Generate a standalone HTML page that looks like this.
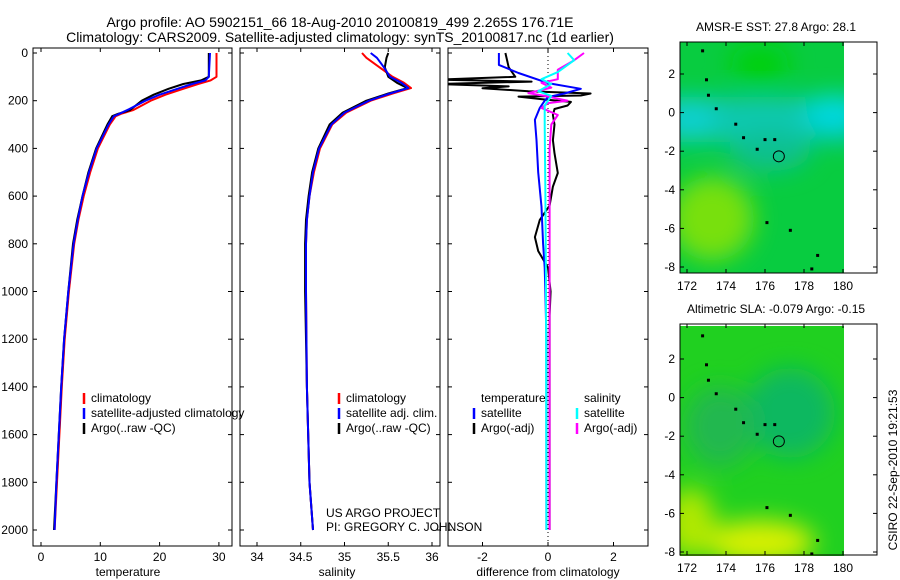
<!DOCTYPE html>
<html><head><meta charset="utf-8">
<style>
body{margin:0;background:#fff;}
svg{display:block;font-family:"Liberation Sans",sans-serif;}
</style></head>
<body>
<svg id="c" width="900" height="580" viewBox="0 0 900 580">
<defs>
<filter id="blur1" x="-20%" y="-20%" width="140%" height="140%"><feGaussianBlur stdDeviation="12"/></filter>
<clipPath id="clipm1"><rect x="680" y="42" width="164" height="231"/></clipPath>
<clipPath id="clipm2"><rect x="680" y="326" width="164" height="230"/></clipPath>
<clipPath id="clipP1"><rect x="33" y="48" width="199" height="498"/></clipPath>
<clipPath id="clipP2"><rect x="240" y="48" width="200" height="498"/></clipPath>
<clipPath id="clipP3"><rect x="448" y="48" width="200" height="498"/></clipPath>
</defs>
<text x="340" y="27" font-size="14" text-anchor="middle">Argo profile: AO 5902151_66 18-Aug-2010 20100819_499 2.265S 176.71E</text>
<text x="340" y="42" font-size="14" text-anchor="middle">Climatology: CARS2009. Satellite-adjusted climatology: synTS_20100817.nc (1d earlier)</text>
<g id="maps"></g>
<g id="panels"></g>
<text x="128" y="576" font-size="12" text-anchor="middle">temperature</text>
<text x="337" y="576" font-size="12" text-anchor="middle">salinity</text>
<text x="548" y="576" font-size="12" text-anchor="middle">difference from climatology</text>
<text x="326" y="517" font-size="12">US ARGO PROJECT</text>
<text x="326" y="531" font-size="12">PI: GREGORY C. JOHNSON</text>
<text x="776" y="313" font-size="12" text-anchor="middle">Altimetric SLA: -0.079 Argo: -0.15</text>
<text x="776" y="31" font-size="12" text-anchor="middle">AMSR-E SST: 27.8 Argo: 28.1</text>
<text transform="translate(897,470) rotate(-90)" font-size="12" text-anchor="middle">CSIRO 22-Sep-2010 19:21:53</text>
</svg>
<script>
// ---- data ----
const depthTicks = [0,200,400,600,800,1000,1200,1400,1600,1800,2000];
const tempTicks = [0,10,20,30];
const salTicks = [34,34.5,35,35.5,36];
const diffTicks = [-2,0,2];
const lonTicks = [172,174,176,178,180];
const latTicks1 = [2,0,-2,-4,-6,-8];
const latTicks2 = [2,0,-2,-4,-6,-8];

const tDepth = [0,100,115,130,150,175,200,240,255,265,300,400,500,600,700,800,1000,1200,1400,1600,1800,2000];
const tClim  = [29.6,29.6,28.6,26.5,24,21,18.5,15.5,13.5,12.6,11.6,9.6,8.3,7.2,6.3,5.6,4.7,4.0,3.5,3.1,2.7,2.3];
const tArgo  = [28.3,28.3,27,24,21.5,19,17,15,13,12,11.2,9.3,8.0,7.0,6.1,5.4,4.6,3.9,3.4,3.0,2.6,2.2];
const tSat   = [28.5,28.3,27.7,25.5,23,20,17.6,14.5,13.2,12.3,11.4,9.4,8.1,7.0,6.2,5.5,4.6,3.9,3.4,3.0,2.6,2.3];

const sDepth = [0,20,60,100,125,147,170,200,250,300,400,500,600,700,800,1000,1400,1800,2000];
const sClim  = [35.2,35.25,35.4,35.55,35.68,35.76,35.55,35.3,35.02,34.86,34.72,34.65,34.6,34.57,34.56,34.56,34.57,34.6,34.64];
const sArgo  = [35.5,35.48,35.46,35.5,35.6,35.72,35.5,35.25,34.98,34.83,34.7,34.63,34.59,34.56,34.55,34.55,34.57,34.6,34.64];
const sSat   = [35.3,35.37,35.45,35.52,35.65,35.73,35.52,35.28,35.0,34.85,34.71,34.64,34.6,34.57,34.56,34.56,34.57,34.6,34.64];

const dDepthBlack = [0,60,100,112,120,130,140,148,160,170,178,183,195,205,220,235,260,300,365,420,503,560,640,700,772,830,900,1000,1100,2000];
const dTempArgo   = [-1.3,-1.2,-1.0,-3.4,-0.5,-3.4,-1.2,-2.0,-0.6,1.3,1.0,-0.9,-0.1,0.7,0.6,0.2,0.15,0.2,0.15,0.2,0.3,0.15,0.05,-0.25,-0.4,-0.3,0.0,0.08,0.05,0.05];
const dDepthBlue  = [0,50,84,126,150,170,185,200,230,280,365,500,645,800,900,1000,1200,2000];
const dTempSat    = [-1.5,-1.5,-0.9,0.0,1.0,0.5,0.0,-0.1,-0.25,-0.4,-0.35,-0.3,-0.2,-0.15,-0.1,-0.08,-0.05,-0.05];
const dDepthCyan  = [0,30,80,110,130,160,180,220,300,600,1000,2000];
const dSalSat     = [0.6,0.8,0.3,-0.2,0.1,-0.3,0.1,-0.1,-0.1,-0.08,-0.06,-0.05];
const dDepthMag   = [0,30,70,110,125,145,168,180,200,210,230,260,300,400,2000];
const dSalArgo    = [1.1,0.8,0.3,0.3,-0.2,0.1,-0.6,-0.1,0.6,0.0,-0.2,0.3,0.1,0.05,0.05];

const floatLon = 176.71, floatLat = -2.265;

// ---- helpers ----
const NS='http://www.w3.org/2000/svg';
function mk(tag, attrs, parent){const e=document.createElementNS(NS,tag);for(const k in attrs)e.setAttribute(k,attrs[k]);parent.appendChild(e);return e;}
const yD = d => 53 + d*0.2385;
const xT = v => 41 + v*5.93;
const xS = v => 257 + (v-34)*87.5;
const xD = v => 548 + v*32.75;
const P = document.getElementById('panels');

function frame(x0,w,name){
  const r=mk('rect',{x:x0,y:48,width:w,height:498,fill:'none',stroke:'#000','stroke-width':1},P);
  
  
}
function yTicks(x0,w,labels){
  depthTicks.forEach(d=>{
    const y=yD(d);
    mk('line',{x1:x0,x2:x0+4,y1:y,y2:y,stroke:'#000'},P);
    mk('line',{x1:x0+w-4,x2:x0+w,y1:y,y2:y,stroke:'#000'},P);
    if(labels){const t=mk('text',{x:x0-5,y:y+4,'font-size':12,'text-anchor':'end'},P);t.textContent=d;
      
      }
  });
}
function xTicks(ticks,fx){
  ticks.forEach(v=>{
    const x=fx(v);
    mk('line',{x1:x,x2:x,y1:48,y2:52,stroke:'#000'},P);
    mk('line',{x1:x,x2:x,y1:542,y2:546,stroke:'#000'},P);
    const t=mk('text',{x:x,y:561,'font-size':12,'text-anchor':'middle'},P);t.textContent=v;
    
    
  });
}
function line(depths,vals,fx,color,clip,name,w){
  const pts=depths.map((d,i)=>fx(vals[i]).toFixed(1)+','+yD(d).toFixed(1)).join(' ');
  const p=mk('polyline',{points:pts,fill:'none',stroke:color,'stroke-width':w||2,'clip-path':'url(#'+clip+')','stroke-linejoin':'round'},P);
  
  
}
function legend(x,y,items){
  items.forEach((it,i)=>{
    const yy=y+i*15;
    if(it.c){mk('line',{x1:x,x2:x,y1:yy-9,y2:yy+2,stroke:it.c,'stroke-width':2.5},P);}
    const t=mk('text',{x:x+7,y:yy,'font-size':12},P);t.textContent=it.t;
    
    
  });
}

// Panel 1
frame(33,199,'temperature-panel');yTicks(33,199,true);xTicks(tempTicks,xT);
line(tDepth,tClim,xT,'#f00','clipP1','temp-climatology-line');
line(tDepth,tArgo,xT,'#000','clipP1','temp-argo-line');
line(tDepth,tSat,xT,'#00f','clipP1','temp-satellite-line');
legend(84,402,[{c:'#f00',t:'climatology'},{c:'#00f',t:'satellite-adjusted climatology'},{c:'#000',t:'Argo(..raw -QC)'}]);
// Panel 2
frame(240,200,'salinity-panel');yTicks(240,200,false);xTicks(salTicks,xS);
line(sDepth,sClim,xS,'#f00','clipP2','sal-climatology-line');
line(sDepth,sArgo,xS,'#000','clipP2','sal-argo-line');
line(sDepth,sSat,xS,'#00f','clipP2','sal-satellite-line');
legend(339,402,[{c:'#f00',t:'climatology'},{c:'#00f',t:'satellite adj. clim.'},{c:'#000',t:'Argo(..raw -QC)'}]);
// Panel 3
frame(448,200,'difference-panel');yTicks(448,200,false);xTicks(diffTicks,xD);
mk('line',{x1:xD(0),x2:xD(0),y1:48,y2:546,stroke:'#000','stroke-dasharray':'1,3'},P);
line(dDepthBlack,dTempArgo,xD,'#000','clipP3','diff-temp-argo-line');
line(dDepthBlue,dTempSat,xD,'#00f','clipP3','diff-temp-satellite-line');
line(dDepthMag,dSalArgo,xD,'#f0f','clipP3','diff-sal-argo-line');
line(dDepthCyan,dSalSat,xD,'#0ff','clipP3','diff-sal-satellite-line');
legend(474,402,[{t:'temperature'},{c:'#00f',t:'satellite'},{c:'#000',t:'Argo(-adj)'}]);
legend(577,402,[{t:'salinity'},{c:'#0ff',t:'satellite'},{c:'#f0f',t:'Argo(-adj)'}]);

// Maps
const M=document.getElementById('maps');
function map(top,lat2y,clip,kind,name){
  const g=mk('g',{},M);
  
  
  const lonx=l=>687+(l-172)*19.5;
  const laty=l=>lat2y+(2-l)*19.3;
  const cg=mk('g',{'clip-path':'url(#'+clip+')'},g);
  if(kind==='sst'){
    mk('rect',{x:680,y:top,width:164,height:240,fill:'#08cc40'},cg);
    const b=mk('g',{filter:'url(#blur1)'},cg);
    mk('rect',{x:660,y:laty(0.8),width:200,height:45,fill:'#10c8b0'},b);
    mk('ellipse',{cx:835,cy:laty(0),rx:30,ry:18,fill:'#00d8e0'},b);
    mk('ellipse',{cx:690,cy:laty(-0.3),rx:25,ry:20,fill:'#10d0d0'},b);
    mk('ellipse',{cx:770,cy:laty(-2),rx:40,ry:20,fill:'#10c090'},b);
    mk('ellipse',{cx:712,cy:laty(-5.5),rx:42,ry:42,fill:'#78e010'},b);
    mk('ellipse',{cx:760,cy:laty(2.5),rx:30,ry:20,fill:'#00d010'},b);
  } else {
    mk('rect',{x:680,y:top,width:164,height:240,fill:'#20d020'},cg);
    const b=mk('g',{filter:'url(#blur1)'},cg);
    mk('ellipse',{cx:790,cy:laty(-0.8),rx:45,ry:45,fill:'#10b860'},b);
    mk('ellipse',{cx:720,cy:laty(-1.5),rx:35,ry:40,fill:'#20b850'},b);
    mk('ellipse',{cx:760,cy:laty(-7.5),rx:55,ry:22,fill:'#d8f000'},b);
    mk('ellipse',{cx:690,cy:laty(-6.5),rx:25,ry:35,fill:'#b0e800'},b);
  }
  [[172.8,3.2],[173.0,1.7],[173.1,0.9],[173.5,0.2],[174.5,-0.6],[174.9,-1.3],[176.0,-1.4],[176.5,-1.4],[175.6,-1.9],[176.1,-5.7],[177.3,-6.1],[178.7,-7.4],[178.4,-8.1]].forEach(p=>{
    mk('rect',{x:lonx(p[0])-1.5,y:laty(p[1])-1.5,width:3,height:3,fill:'#000'},cg);
  });
  mk('circle',{cx:lonx(floatLon),cy:laty(floatLat),r:5.5,fill:'none',stroke:'#000','stroke-width':1},g);
  const bot=top+231;
  mk('rect',{x:680,y:top,width:197,height:231,fill:'none',stroke:'#000'},g);
  lonTicks.forEach(l=>{const x=lonx(l);
    mk('line',{x1:x,x2:x,y1:top,y2:top+4,stroke:'#000'},g);mk('line',{x1:x,x2:x,y1:bot-4,y2:bot,stroke:'#000'},g);
    const t=mk('text',{x:x,y:bot+17,'font-size':12,'text-anchor':'middle'},g);t.textContent=l;
    
    });
  latTicks1.forEach(l=>{const y=laty(l);
    mk('line',{x1:680,x2:684,y1:y,y2:y,stroke:'#000'},g);mk('line',{x1:873,x2:877,y1:y,y2:y,stroke:'#000'},g);
    const t=mk('text',{x:675,y:y+4,'font-size':12,'text-anchor':'end'},g);t.textContent=l;
    
    });
}
map(42,74,'clipm1','sst','sst-map');
map(324,359,'clipm2','sla','sla-map');
</script>
</body></html>
